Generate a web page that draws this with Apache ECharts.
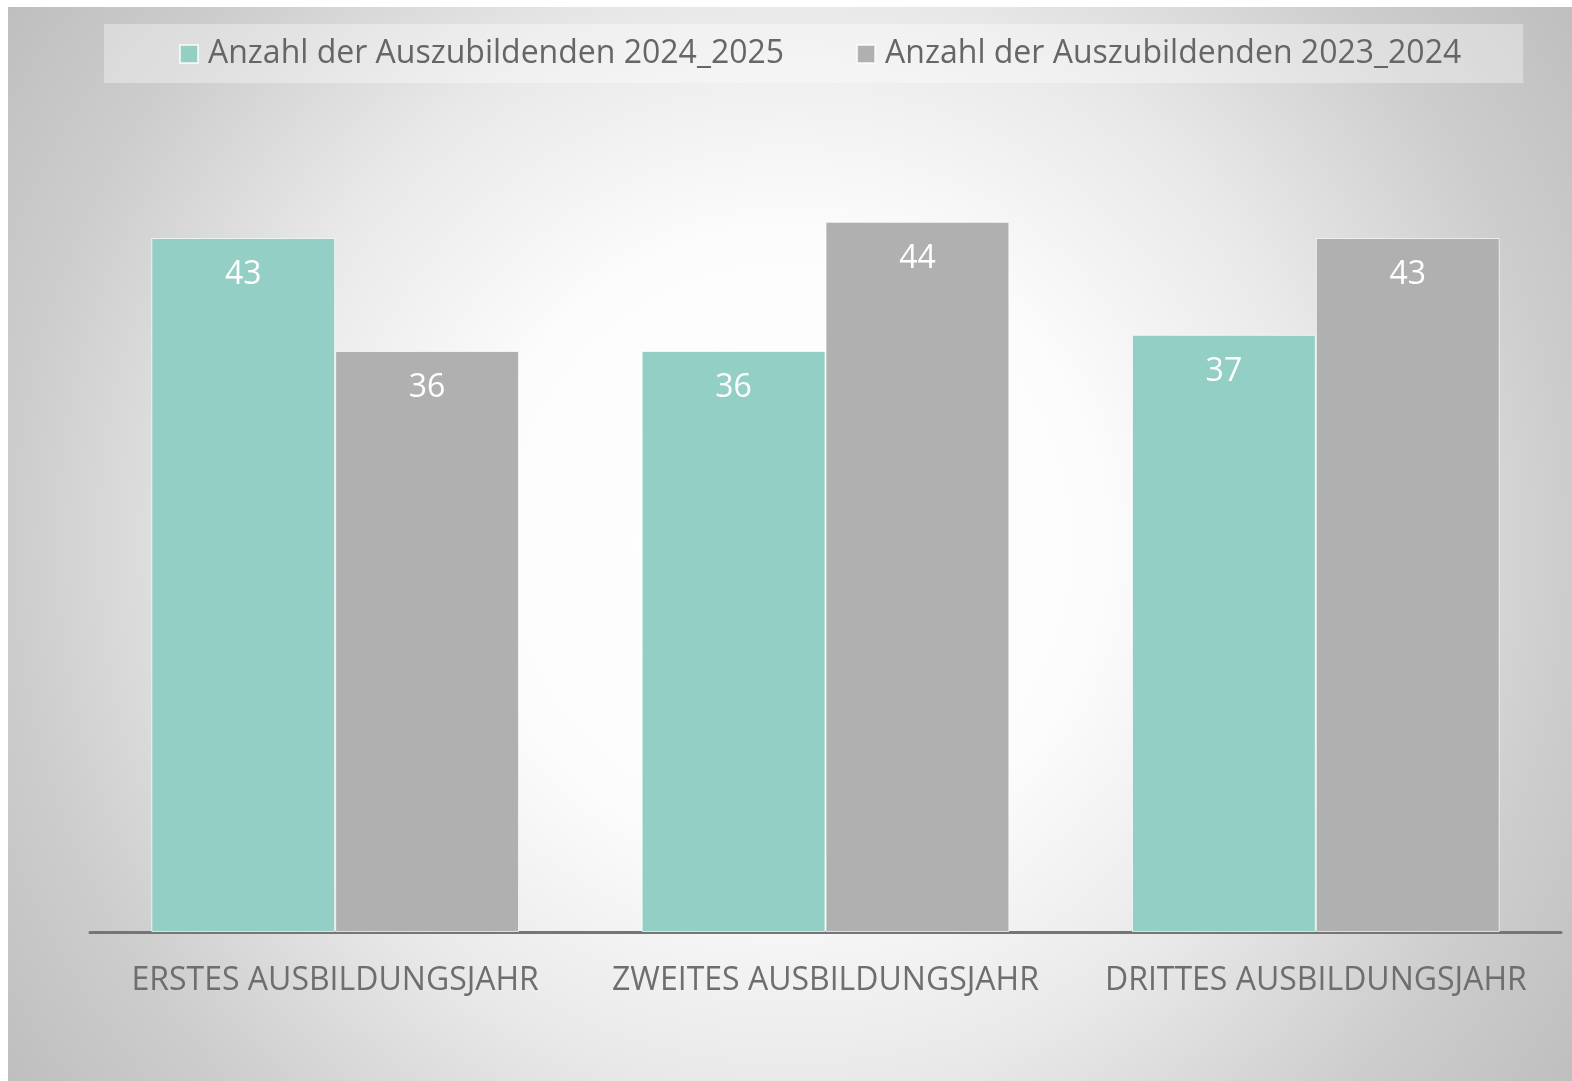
<!DOCTYPE html>
<html>
<head>
<meta charset="utf-8">
<script src="https://cdn.jsdelivr.net/npm/echarts@6/dist/echarts.min.js"></script>
<style>
  html, body { margin: 0; padding: 0; background: #ffffff; }
  #wrap { position: relative; width: 1572px; height: 1081px; overflow: hidden; }
  #chart { position: absolute; left: 8px; top: 7px; width: 1564px; height: 1074px; }
</style>
</head>
<body>
<div id="wrap"><div id="chart"></div></div>
<script>
// Daten
const categories = ["ERSTES AUSBILDUNGSJAHR", "ZWEITES AUSBILDUNGSJAHR", "DRITTES AUSBILDUNGSJAHR"];
const seriesNames = ["Anzahl der Auszubildenden 2024_2025", "Anzahl der Auszubildenden 2023_2024"];
const values2024 = [43, 36, 37];
const values2023 = [36, 44, 43];

const chart = echarts.init(document.getElementById("chart"), null, { renderer: "canvas" });

const fontFamily = "'Open Sans', sans-serif";

const labelStyle = {
  show: true,
  position: "insideTop",
  distance: 21,
  color: "#ffffff",
  fontSize: 32,
  fontFamily: fontFamily
};

chart.setOption({
  animation: false,
  textStyle: { fontFamily: fontFamily },
  backgroundColor: {
    type: "radial",
    x: 0.5, y: 0.5, r: 0.9,
    colorStops: [
      { offset: 0, color: "#ffffff" },
      { offset: 0.32, color: "#fcfcfc" },
      { offset: 0.56, color: "#e9e9e9" },
      { offset: 0.8, color: "#cdcdcd" },
      { offset: 1, color: "#bdbdbd" }
    ]
  },
  legend: {
    left: 96,
    top: 17,
    padding: [14, 62, 13, 75],
    backgroundColor: "rgba(255,255,255,0.35)",
    itemWidth: 18,
    itemHeight: 18,
    itemGap: 72,
    icon: "rect",
    textStyle: { color: "#666666", fontSize: 32, padding: [0, 0, 0, 5] },
    data: seriesNames
  },
  grid: { left: 82, right: 11, top: 118, bottom: 149 },
  xAxis: {
    type: "category",
    data: categories,
    axisLine: { show: true, lineStyle: { color: "#757575", width: 3 } },
    axisTick: { show: false },
    axisLabel: { color: "#6e6e6e", fontSize: 32, margin: 33, interval: 0 }
  },
  yAxis: {
    type: "value",
    min: 0,
    max: 50,
    show: false,
    splitLine: { show: false }
  },
  series: [
    {
      name: seriesNames[0],
      type: "bar",
      data: values2024,
      barGap: "0%",
      barCategoryGap: "25%",
      itemStyle: { color: "#93cfc4", borderColor: "rgba(255,255,255,0.7)", borderWidth: 1 },
      label: labelStyle
    },
    {
      name: seriesNames[1],
      type: "bar",
      data: values2023,
      barGap: "0%",
      barCategoryGap: "25%",
      itemStyle: { color: "#b0b0b0", borderColor: "rgba(255,255,255,0.7)", borderWidth: 1 },
      label: labelStyle
    }
  ]
});
</script>
</body>
</html>
